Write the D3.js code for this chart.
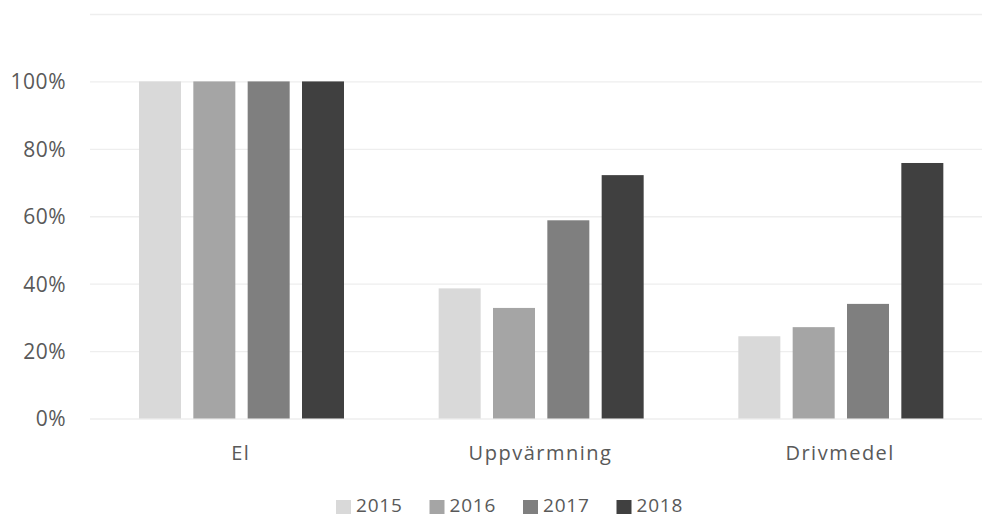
<!DOCTYPE html>
<html><head><meta charset="utf-8">
<script src="https://cdn.jsdelivr.net/npm/d3@7"></script>
<style>
html,body{margin:0;padding:0;background:#fff;}
svg{display:block;}
text{font-family:"Open Sans","Liberation Sans",sans-serif;fill:#595959;}
</style></head>
<body><svg id="chart" width="982" height="517"></svg>
<script>
const categories = ["El", "Uppvärmning", "Drivmedel"];
const years = ["2015", "2016", "2017", "2018"];
const values2015 = [1.00, 0.386, 0.244];
const values2016 = [1.00, 0.328, 0.271];
const values2017 = [1.00, 0.588, 0.340];
const values2018 = [1.00, 0.722, 0.758];
const yTicks = [0, 0.2, 0.4, 0.6, 0.8, 1.0, 1.2];
const colors = ["#d9d9d9", "#a5a5a5", "#7f7f7f", "#404040"];

const series = [values2015, values2016, values2017, values2018];
const svg = d3.select("#chart");

const y = d3.scaleLinear().domain([0, 1.2]).range([418.5, 14]);
const x0 = d3.scaleBand().domain(categories).range([91, 990]).padding(0);
const x1 = d3.scaleBand().domain(years).range([48, 253]).paddingInner(0.227).paddingOuter(0);

// gridlines
const grid = svg.append("g").attr("transform", "translate(90,0)")
  .call(d3.axisLeft(y).tickValues(yTicks).tickSize(-900).tickFormat(""));
grid.select(".domain").remove();
grid.selectAll("line").attr("stroke", "#eeeeee").attr("stroke-width", 1.3);

// y labels
const yax = svg.append("g").attr("transform", "translate(66,0)")
  .call(d3.axisLeft(y).tickValues(yTicks.filter(d => d <= 1.0)).tickSize(0).tickPadding(0).tickFormat(d3.format(".0%")));
yax.select(".domain").remove();
yax.selectAll("text").attr("font-size", 21).attr("fill", "#595959")
  .style("font-family", "'Open Sans', sans-serif").style("letter-spacing", "0.5px").attr("dy", "0.35em");

// bars
const rows = categories.map((c, i) => ({cat: c, vals: years.map((yr, j) => ({year: yr, v: series[j][i], j}))}));
const groups = svg.append("g").selectAll("g").data(rows).join("g")
  .attr("transform", d => `translate(${x0(d.cat)},0)`);
groups.selectAll("rect").data(d => d.vals).join("rect")
  .attr("x", d => x1(d.year))
  .attr("width", x1.bandwidth())
  .attr("y", d => y(d.v))
  .attr("height", d => y(0) - y(d.v))
  .attr("fill", d => colors[d.j]);

// x labels
const xax = svg.append("g").attr("transform", "translate(0,418.5)")
  .call(d3.axisBottom(x0).tickSize(0).tickPadding(0));
xax.select(".domain").remove();
xax.selectAll("text").attr("font-size", 20).attr("fill", "#595959")
  .style("font-family", "'Open Sans', sans-serif").style("letter-spacing", "1.5px")
  .attr("dy", "0").attr("y", 41);

// legend
const legX = d3.scaleBand().domain(years).range([336, 710]);
const leg = svg.append("g").selectAll("g").data(years).join("g")
  .attr("transform", d => `translate(${legX(d)},0)`);
leg.append("rect").attr("x", 0).attr("y", 500).attr("width", 15).attr("height", 14)
  .attr("fill", (d, i) => colors[i]);
leg.append("text").attr("x", 20).attr("y", 505).attr("dy", "0.35em").attr("font-size", 19)
  .style("letter-spacing", "0.8px")
  .attr("fill", "#595959").text(d => d);
</script></body></html>
